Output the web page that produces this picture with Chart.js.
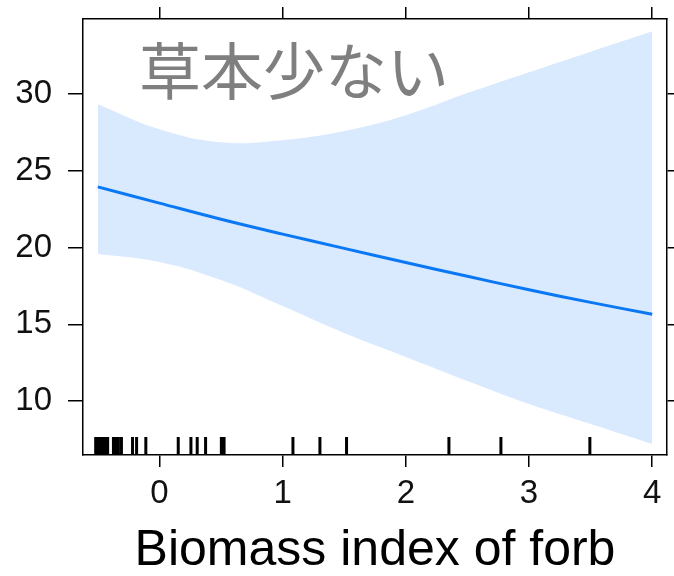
<!DOCTYPE html>
<html lang="ja">
  <head>
    <meta charset="utf-8" />
    <title>Biomass index of forb</title>
    <style>
      * {
        margin: 0;
        padding: 0;
      }
      body {
        background: #fff;
      }
      .chartBox {
        width: 674px;
        height: 576px;
      }
    </style>
  </head>
  <body>
    <div class="chartBox">
      <canvas id="myChart"></canvas>
    </div>
    <script src="https://cdn.jsdelivr.net/npm/chart.js"></script>
    <script>
      // data
      const xGrid = [-0.5, 0, 0.5, 1, 1.5, 2, 2.5, 3, 3.5, 4];
      const fitY = [23.96, 22.9, 21.85, 20.88, 19.95, 19.03, 18.13, 17.25, 16.43, 15.65];
      const upperY = [29.35, 27.72, 26.87, 27.0, 27.6, 28.63, 30.07, 31.43, 32.77, 34.1];
      const lowerY = [19.58, 19.06, 17.88, 16.19, 14.43, 12.87, 11.3, 9.8, 8.5, 7.2];
      const rugX = [
        -0.517, -0.497, -0.477, -0.456, -0.436, -0.42,
        -0.373, -0.353, -0.333, -0.308,
        -0.218, -0.185, -0.11, 0.153, 0.256, 0.307, 0.375, 0.503, 0.525,
        1.084, 1.303, 1.519, 2.35, 2.772, 3.494,
      ];
      const xTicks = [0, 1, 2, 3, 4];
      const yTicks = [10, 15, 20, 25, 30];
      const panelLabel = "草本少ない";
      const xTitle = "Biomass index of forb";

      const pts = (ys) => xGrid.map((x, i) => ({ x: x, y: ys[i] }));

      // rug marks along the bottom edge
      const rugPlugin = {
        id: "rug",
        afterDatasetsDraw(chart) {
          const { ctx, chartArea, scales } = chart;
          ctx.save();
          ctx.strokeStyle = "#000";
          ctx.lineWidth = 3;
          ctx.beginPath();
          rugX.forEach((v) => {
            const px = scales.x.getPixelForValue(v);
            ctx.moveTo(px, chartArea.bottom);
            ctx.lineTo(px, chartArea.bottom - 18);
          });
          ctx.stroke();
          ctx.restore();
        },
      };

      // grey label in the top-left of the panel
      const labelPlugin = {
        id: "panelLabel",
        afterDatasetsDraw(chart) {
          const { ctx, chartArea } = chart;
          ctx.save();
          ctx.fillStyle = "#7f7f7f";
          ctx.font = '62px "Noto Sans CJK JP"';
          ctx.textAlign = "left";
          ctx.textBaseline = "middle";
          ctx.fillText(panelLabel, chartArea.left + 56, chartArea.top + 52);
          ctx.restore();
        },
      };

      const tickFont = { family: "Liberation Sans, Arial, sans-serif", size: 33 };

      function axis(position, ticks, tickLen, size, showLabels) {
        const horizontal = position === "top" || position === "bottom";
        return {
          type: "linear",
          position: position,
          min: horizontal ? -0.62 : 6.48,
          max: horizontal ? 4.12 : 34.9,
          afterBuildTicks: (s) => {
            s.ticks = ticks.map((v) => ({ value: v }));
          },
          afterFit: (s) => {
            if (horizontal) s.height = size;
            else s.width = size;
            // keep label overhang from shrinking the panel
            s.paddingTop = 0;
            s.paddingBottom = 0;
            s.paddingLeft = 0;
            s.paddingRight = 0;
          },
          grid: {
            drawOnChartArea: false,
            drawTicks: true,
            tickLength: tickLen,
            color: "#000",
            lineWidth: 1.5,
          },
          border: { display: true, color: "#000", width: 1.5 },
          ticks: {
            font: tickFont,
            color: "#111",
            padding: horizontal ? 7 : 16,
            maxRotation: 0,
            callback: (v) => (showLabels ? String(v) : ""),
          },
        };
      }

      const xAxis = axis("bottom", xTicks, 12, 121, true);
      xAxis.title = {
        display: true,
        text: xTitle,
        color: "#000",
        font: { family: "Liberation Sans, Arial, sans-serif", size: 50, lineHeight: 1 },
        padding: { top: 0, bottom: 0 },
      };

      const config = {
        type: "line",
        data: {
          datasets: [
            {
              label: "fit",
              data: pts(fitY),
              borderColor: "#0a78f5",
              borderWidth: 3,
              pointRadius: 0,
              tension: 0.4,
              fill: false,
            },
            {
              label: "upper",
              data: pts(upperY),
              borderWidth: 0,
              borderColor: "rgba(0,0,0,0)",
              backgroundColor: "rgb(217, 234, 255)",
              pointRadius: 0,
              tension: 0.4,
              fill: "+1",
            },
            {
              label: "lower",
              data: pts(lowerY),
              borderWidth: 0,
              borderColor: "rgba(0,0,0,0)",
              pointRadius: 0,
              tension: 0.4,
              fill: false,
            },
          ],
        },
        options: {
          responsive: true,
          maintainAspectRatio: false,
          animation: false,
          layout: { padding: 0 },
          plugins: {
            legend: { display: false },
            tooltip: { enabled: false },
          },
          scales: {
            x: xAxis,
            x2: axis("top", xTicks, 12, 19, false),
            y: axis("left", yTicks, 15, 83, true),
            y2: axis("right", yTicks, 7, 7, false),
          },
        },
        plugins: [rugPlugin, labelPlugin],
      };

      const myChart = new Chart(document.getElementById("myChart"), config);
    </script>
  </body>
</html>
